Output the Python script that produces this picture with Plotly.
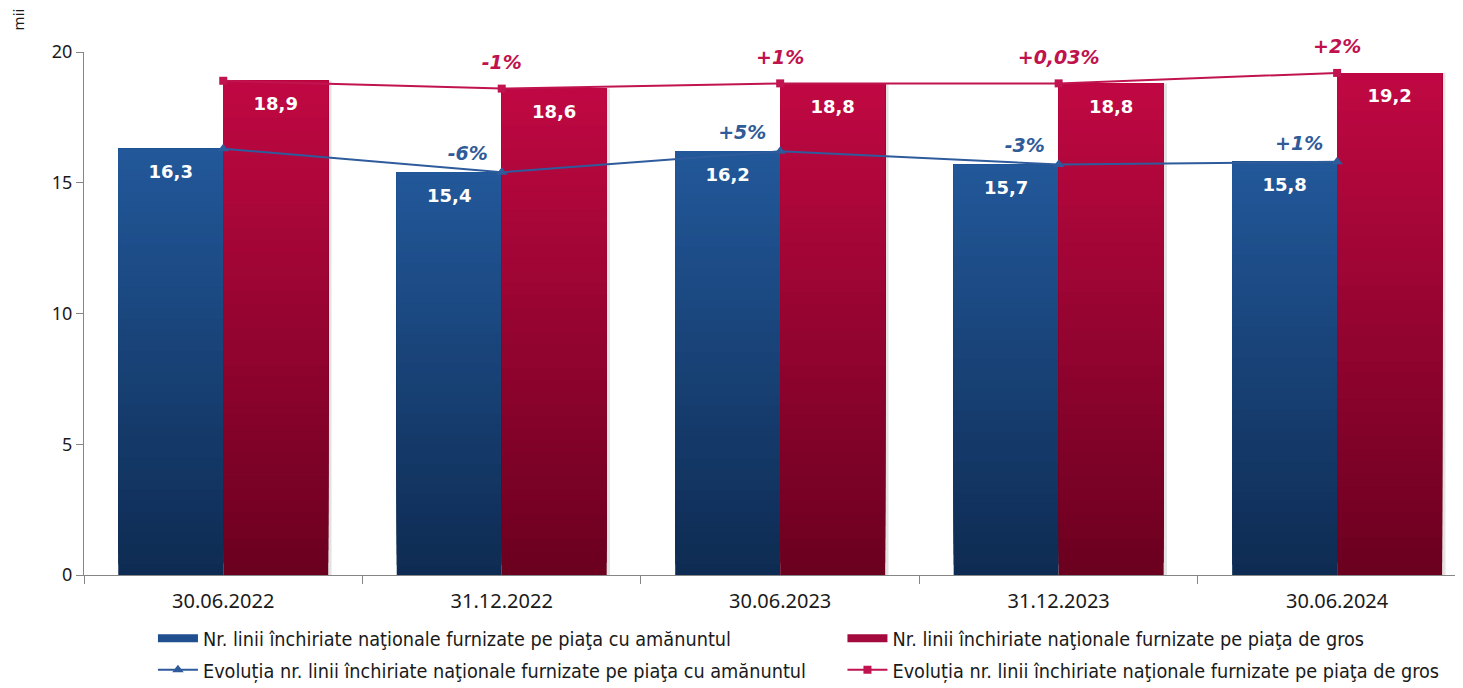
import plotly.graph_objects as go

# ---------------- data ----------------
categories = ["30.06.2022", "31.12.2022", "30.06.2023", "31.12.2023", "30.06.2024"]
retail = [16.3, 15.4, 16.2, 15.7, 15.8]
wholesale = [18.9, 18.6, 18.8, 18.8, 19.2]
retail_change = ["", "-6%", "+5%", "-3%", "+1%"]
wholesale_change = ["", "-1%", "+1%", "+0,03%", "+2%"]
y_ticks = [0, 5, 10, 15, 20]
unit_label = "mii"

name_retail_bar = "Nr. linii închiriate naţionale furnizate pe piaţa cu amănuntul"
name_wholesale_bar = "Nr. linii închiriate naţionale furnizate pe piaţa de gros"
name_retail_line = "Evoluția nr. linii închiriate naţionale furnizate pe piaţa cu amănuntul"
name_wholesale_line = "Evoluția nr. linii închiriate naţionale furnizate pe piaţa de gros"

# ---------------- style ----------------
BW = 0.377
N_SEG = 40
BLUE_BOTTOM, BLUE_TOP = (14, 43, 82), (34, 88, 154)
RED_BOTTOM, RED_TOP = (106, 0, 31), (192, 8, 67)
BLUE_LEGEND = "#1F4F8E"
RED_LEGEND = "#A30A3D"
BLUE_LINE = "#2E5B9B"
RED_LINE = "#C0134F"
LABEL_FONT = "DejaVu Sans"
AXIS_FONT = "Noto Sans"
LEGEND_FONT = "DejaVu Sans Condensed, DejaVu Sans"


def lerp(c1, c2, t):
    return "rgb(%d,%d,%d)" % tuple(round(a + (b - a) * t) for a, b in zip(c1, c2))


def fmt(v):
    return f"{v:.1f}".replace(".", ",")


idx = list(range(len(categories)))
fig = go.Figure()

# shadow for the wholesale bars
fig.add_bar(x=idx, y=wholesale, offset=0.012, width=BW,
            marker=dict(color="rgba(0,0,0,0.11)", line_width=0),
            showlegend=False, hoverinfo="skip")

# gradient bars (overlapping segments)
for series, bottom, top, offset in [
    (retail, BLUE_BOTTOM, BLUE_TOP, -BW),
    (wholesale, RED_BOTTOM, RED_TOP, 0.0),
]:
    for k in range(N_SEG):
        t = (k + 0.5) / N_SEG
        fig.add_bar(
            x=idx,
            y=[v - v * k / N_SEG for v in series],
            base=[v * k / N_SEG for v in series],
            offset=offset, width=BW,
            marker=dict(color=lerp(bottom, top, t), line_width=0),
            showlegend=False, hoverinfo="skip",
        )

# value labels inside bars
for series, offset in [(retail, -BW / 2), (wholesale, BW / 2)]:
    fig.add_scatter(
        x=[i + offset for i in idx], y=series,
        mode="markers+text", text=[fmt(v) for v in series],
        textposition="bottom center",
        marker=dict(size=24, opacity=0),
        textfont=dict(family=LABEL_FONT, size=18, color="white", weight="bold"),
        showlegend=False, hoverinfo="skip", cliponaxis=False,
    )

# evolution lines
fig.add_scatter(x=idx, y=retail, mode="lines+markers", name=name_retail_line,
                legend="legend", legendgroup="b", legendrank=2,
                line=dict(color=BLUE_LINE, width=2),
                marker=dict(symbol="triangle-up", size=10, color=BLUE_LINE),
                cliponaxis=False)
fig.add_scatter(x=idx, y=wholesale, mode="lines+markers", name=name_wholesale_line,
                legend="legend2", legendgroup="d", legendrank=2,
                line=dict(color=RED_LINE, width=2),
                marker=dict(symbol="square", size=8, color=RED_LINE),
                cliponaxis=False)

# legend entries for the bar series (thick-line swatches)
fig.add_scatter(x=[None], y=[None], mode="lines", name=name_retail_bar,
                legend="legend", legendgroup="a", legendrank=1,
                line=dict(color=BLUE_LEGEND, width=8), hoverinfo="skip")
fig.add_scatter(x=[None], y=[None], mode="lines", name=name_wholesale_bar,
                legend="legend2", legendgroup="c", legendrank=1,
                line=dict(color=RED_LEGEND, width=8), hoverinfo="skip")

# percentage labels
fig.add_scatter(x=idx, y=retail, mode="markers+text",
                text=[t + "\u00a0" if t else "" for t in retail_change],
                textposition="top left", marker=dict(size=10, opacity=0),
                textfont=dict(family=LABEL_FONT, size=19, color="#2F5B98",
                              weight="bold", style="italic"),
                showlegend=False, hoverinfo="skip", cliponaxis=False)
fig.add_scatter(x=idx, y=wholesale, mode="markers+text", text=wholesale_change,
                textposition="top center", marker=dict(size=22, opacity=0),
                textfont=dict(family=LABEL_FONT, size=19, color="#C0124C",
                              weight="bold", style="italic"),
                showlegend=False, hoverinfo="skip", cliponaxis=False)

legend_common = dict(orientation="v", xanchor="left", y=-0.084, yanchor="top",
                     font=dict(family=LEGEND_FONT, size=19.7, color="#1a1a1a"),
                     traceorder="grouped", tracegroupgap=3, itemwidth=40,
                     bgcolor="rgba(0,0,0,0)")

fig.update_layout(
    width=1455, height=680,
    margin=dict(l=76, r=0, t=44, b=113, autoexpand=False),
    plot_bgcolor="white", paper_bgcolor="white",
    barmode="overlay",
    showlegend=True,
    legend=dict(x=0.05, **legend_common),
    legend2=dict(x=0.55, **legend_common),
    xaxis=dict(range=[-0.5, 4.452], tickmode="array", tickvals=idx, ticktext=categories,
               ticks="", showgrid=False, zeroline=False, ticklabelstandoff=8,
               showline=True, linecolor="#868686", linewidth=1,
               tickfont=dict(family=AXIS_FONT, size=20, color="#1a1a1a"),
               minor=dict(ticks="outside", tick0=0.5, dtick=1, ticklen=8,
                          tickcolor="#868686", showgrid=False)),
    yaxis=dict(range=[0, 20], tickmode="array", tickvals=y_ticks,
               ticks="outside", ticklen=7, tickcolor="#868686",
               showgrid=False, zeroline=False,
               showline=True, linecolor="#868686", linewidth=1,
               tickfont=dict(family=AXIS_FONT, size=18, color="#1a1a1a")),
    annotations=[dict(text=unit_label, xref="paper", yref="paper",
                      x=-0.048, y=1.062, xanchor="center", yanchor="middle",
                      textangle=-90, showarrow=False,
                      font=dict(family=AXIS_FONT, size=15, color="#1a1a1a"))],
)

fig.write_html("out.html")
